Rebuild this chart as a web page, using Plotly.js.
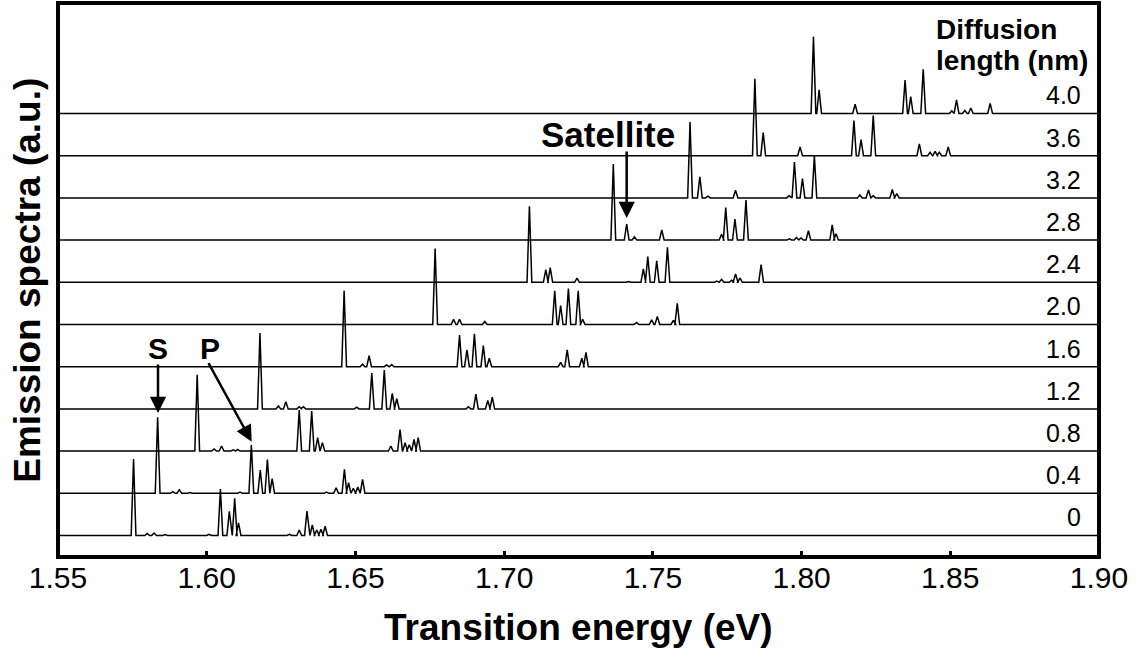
<!DOCTYPE html>
<html><head><meta charset="utf-8">
<script src="https://cdn.plot.ly/plotly-3.0.1.min.js"></script>
<style>html,body{margin:0;padding:0;background:#fff;}#chart{width:1136px;height:649px;}</style>
</head><body><div id="chart"></div>
<script>
// ---- data ----
const rowLabels  = ['0','0.4','0.8','1.2','1.6','2.0','2.4','2.8','3.2','3.6','4.0'];
const rowOffsets = [0,1,2,3,4,5,6,7,8,9,10];

const peakE_00 = [1.5754,1.5800,1.5823,1.5860,1.6008,1.6046,1.6076,1.6094,1.6107,1.6278,1.6311,1.6337,1.6355,1.6370,1.6384,1.6398];
const peakH_00 = [1.81,0.05,0.06,0.02,0.03,1.10,0.57,0.88,0.30,0.03,0.13,0.58,0.25,0.13,0.15,0.22];
const peakE_04 = [1.5835,1.5886,1.5908,1.5944,1.6112,1.6150,1.6180,1.6204,1.6220,1.6403,1.6435,1.6463,1.6477,1.6493,1.6508,1.6524];
const peakH_04 = [1.80,0.04,0.08,0.02,0.03,1.15,0.55,0.80,0.35,0.03,0.13,0.57,0.25,0.12,0.15,0.33];
const peakE_08 = [1.5968,1.6025,1.6050,1.6089,1.6104,1.6311,1.6353,1.6373,1.6389,1.6619,1.6650,1.6667,1.6681,1.6697,1.6711];
const peakH_08 = [1.81,0.05,0.12,0.03,0.04,0.97,0.95,0.32,0.20,0.12,0.51,0.20,0.15,0.28,0.32];
const peakE_12 = [1.6179,1.6241,1.6266,1.6311,1.6325,1.6504,1.6555,1.6597,1.6624,1.6639,1.6880,1.6905,1.6945,1.6960];
const peakH_12 = [1.80,0.07,0.17,0.05,0.05,0.04,0.85,0.92,0.37,0.24,0.05,0.35,0.20,0.28];
const peakE_16 = [1.6462,1.6524,1.6546,1.6605,1.6622,1.6850,1.6875,1.6900,1.6930,1.6950,1.7190,1.7212,1.7261,1.7275];
const peakH_16 = [1.80,0.06,0.26,0.04,0.05,0.75,0.40,0.78,0.50,0.20,0.10,0.40,0.20,0.34];
const peakE_20 = [1.6768,1.6830,1.6850,1.6935,1.7170,1.7190,1.7216,1.7249,1.7264,1.7445,1.7496,1.7515,1.7569,1.7582];
const peakH_20 = [1.80,0.12,0.12,0.07,0.80,0.45,0.85,0.80,0.12,0.05,0.11,0.19,0.10,0.50];
const peakE_24 = [1.7085,1.7140,1.7155,1.7245,1.7418,1.7468,1.7483,1.7513,1.7549,1.7715,1.7731,1.7765,1.7778,1.7793,1.7864];
const peakH_24 = [1.80,0.30,0.35,0.10,0.02,0.32,0.61,0.51,0.83,0.03,0.07,0.05,0.20,0.10,0.42];
const peakE_28 = [1.7367,1.7412,1.7438,1.7530,1.7731,1.7745,1.7776,1.7813,1.7959,1.7983,1.7998,1.8023,1.8103,1.8116];
const peakH_28 = [1.80,0.38,0.08,0.24,0.14,0.77,0.50,0.95,0.03,0.06,0.05,0.22,0.36,0.15];
const peakE_32 = [1.7625,1.7658,1.7685,1.7778,1.7958,1.7976,1.8003,1.8043,1.8196,1.8225,1.8241,1.8305,1.8320];
const peakH_32 = [1.80,0.50,0.04,0.18,0.05,0.85,0.46,1.00,0.07,0.19,0.05,0.20,0.10];
const peakE_36 = [1.7843,1.7871,1.7995,1.8176,1.8200,1.8241,1.8396,1.8432,1.8449,1.8463,1.8493];
const peakH_36 = [1.82,0.55,0.21,0.83,0.38,0.95,0.28,0.08,0.10,0.08,0.21];
const peakE_40 = [1.8040,1.8059,1.8180,1.8348,1.8367,1.8409,1.8505,1.8521,1.8549,1.8569,1.8634];
const peakH_40 = [1.82,0.56,0.22,0.79,0.40,1.05,0.06,0.32,0.07,0.13,0.24];

const xTickVals = [1.55,1.60,1.65,1.70,1.75,1.80,1.85,1.90];
const xTickText = ['1.55','1.60','1.65','1.70','1.75','1.80','1.85','1.90'];

// ---- build traces ----
const peakE = [peakE_00,peakE_04,peakE_08,peakE_12,peakE_16,peakE_20,peakE_24,peakE_28,peakE_32,peakE_36,peakE_40];
const peakH = [peakH_00,peakH_04,peakH_08,peakH_12,peakH_16,peakH_20,peakH_24,peakH_28,peakH_32,peakH_36,peakH_40];
const X0 = 1.55, X1 = 1.90, HW = 0.0008;
const traces = rowOffsets.map((off, i) => {
  const xs = [X0], ys = [off];
  peakE[i].forEach((c, k) => {
    xs.push(c - HW, c, c + HW);
    ys.push(off, off + peakH[i][k], off);
  });
  xs.push(X1); ys.push(off);
  return {x: xs, y: ys, type: 'scatter', mode: 'lines',
          line: {color: '#000', width: 1.5}, hoverinfo: 'skip', showlegend: false};
});

const F = '"Liberation Sans", Arial, sans-serif';
const FN = '"Liberation Sans Narrow", "Arial Narrow", "Liberation Sans", Arial, sans-serif';
const ann = [];
rowLabels.forEach((t, i) => ann.push({x: 1.8946, y: rowOffsets[i] + 0.43, xref: 'x', yref: 'y',
  text: t, showarrow: false, xanchor: 'right', yanchor: 'middle', font: {family: F, size: 25, color: '#000'}}));
ann.push({x: 1.8449, y: 11.995, xref: 'x', yref: 'y', text: '<b>Diffusion</b>', borderpad: 0,
  showarrow: false, xanchor: 'left', yanchor: 'middle', font: {family: F, size: 28, color: '#000'}});
ann.push({x: 1.8449, y: 11.249, xref: 'x', yref: 'y', text: '<b>length (nm)</b>', borderpad: 0,
  showarrow: false, xanchor: 'left', yanchor: 'middle', font: {family: F, size: 28, color: '#000'}});
// S arrow
ann.push({x: 1.58362, y: 2.903, xref: 'x', yref: 'y', text: '', showarrow: true, ax: 0, ay: -50,
  arrowhead: 2, arrowsize: 1.3, arrowwidth: 2.5, arrowcolor: '#000'});
ann.push({x: 1.58362, y: 4.435, xref: 'x', yref: 'y', text: '<b>S</b>', showarrow: false,
  font: {family: F, size: 30, color: '#000'}, xanchor: 'center', yanchor: 'middle'});
// P arrow
ann.push({x: 1.61512, y: 2.223, xref: 'x', yref: 'y', text: '', showarrow: true, ax: -44, ay: -80,
  arrowhead: 2, arrowsize: 1.3, arrowwidth: 2.5, arrowcolor: '#000'});
ann.push({x: 1.6011, y: 4.435, xref: 'x', yref: 'y', text: '<b>P</b>', showarrow: false,
  font: {family: F, size: 30, color: '#000'}, xanchor: 'center', yanchor: 'middle'});
// Satellite arrow
ann.push({x: 1.7412, y: 7.524, xref: 'x', yref: 'y', text: '', showarrow: true, ax: 0, ay: -68,
  arrowhead: 2, arrowsize: 1.3, arrowwidth: 2.5, arrowcolor: '#000'});
ann.push({x: 1.7349, y: 9.50, xref: 'x', yref: 'y', text: '<b>Satellite</b>', showarrow: false,
  font: {family: F, size: 35, color: '#000'}, xanchor: 'center', yanchor: 'middle'});
// axis titles
ann.push({x: 0.5, y: -0.128, xref: 'paper', yref: 'paper', text: '<b>Transition energy (eV)</b>', showarrow: false,
  font: {family: F, size: 37, color: '#000'}, xanchor: 'center', yanchor: 'middle'});
ann.push({x: -0.030, y: 0.5, xref: 'paper', yref: 'paper', text: '<b>Emission spectra (a.u.)</b>', showarrow: false,
  textangle: -90, font: {family: F, size: 37, color: '#000'}, xanchor: 'center', yanchor: 'middle'});

const layout = {
  width: 1136, height: 649,
  margin: {l: 58, r: 37, t: 3, b: 92, pad: 0},
  paper_bgcolor: '#fff', plot_bgcolor: '#fff',
  showlegend: false,
  xaxis: {range: [X0, X1], tickvals: xTickVals, ticktext: xTickText, ticks: 'inside', ticklen: 6, tickwidth: 3,
          tickcolor: '#000', showline: false, showgrid: false, zeroline: false, ticklabelstandoff: 0,
          tickfont: {family: FN, size: 30, color: '#000'}},
  yaxis: {range: [-0.5095, 12.618], showticklabels: false, ticks: '', showline: false,
          showgrid: false, zeroline: false},
  shapes: [{type: 'rect', xref: 'paper', yref: 'paper', x0: 0, x1: 1, y0: 0, y1: 1,
            line: {color: '#000', width: 4}, fillcolor: 'rgba(0,0,0,0)', layer: 'above'}],
  annotations: ann
};
Plotly.newPlot('chart', traces, layout, {staticPlot: true, displayModeBar: false});
</script></body></html>
